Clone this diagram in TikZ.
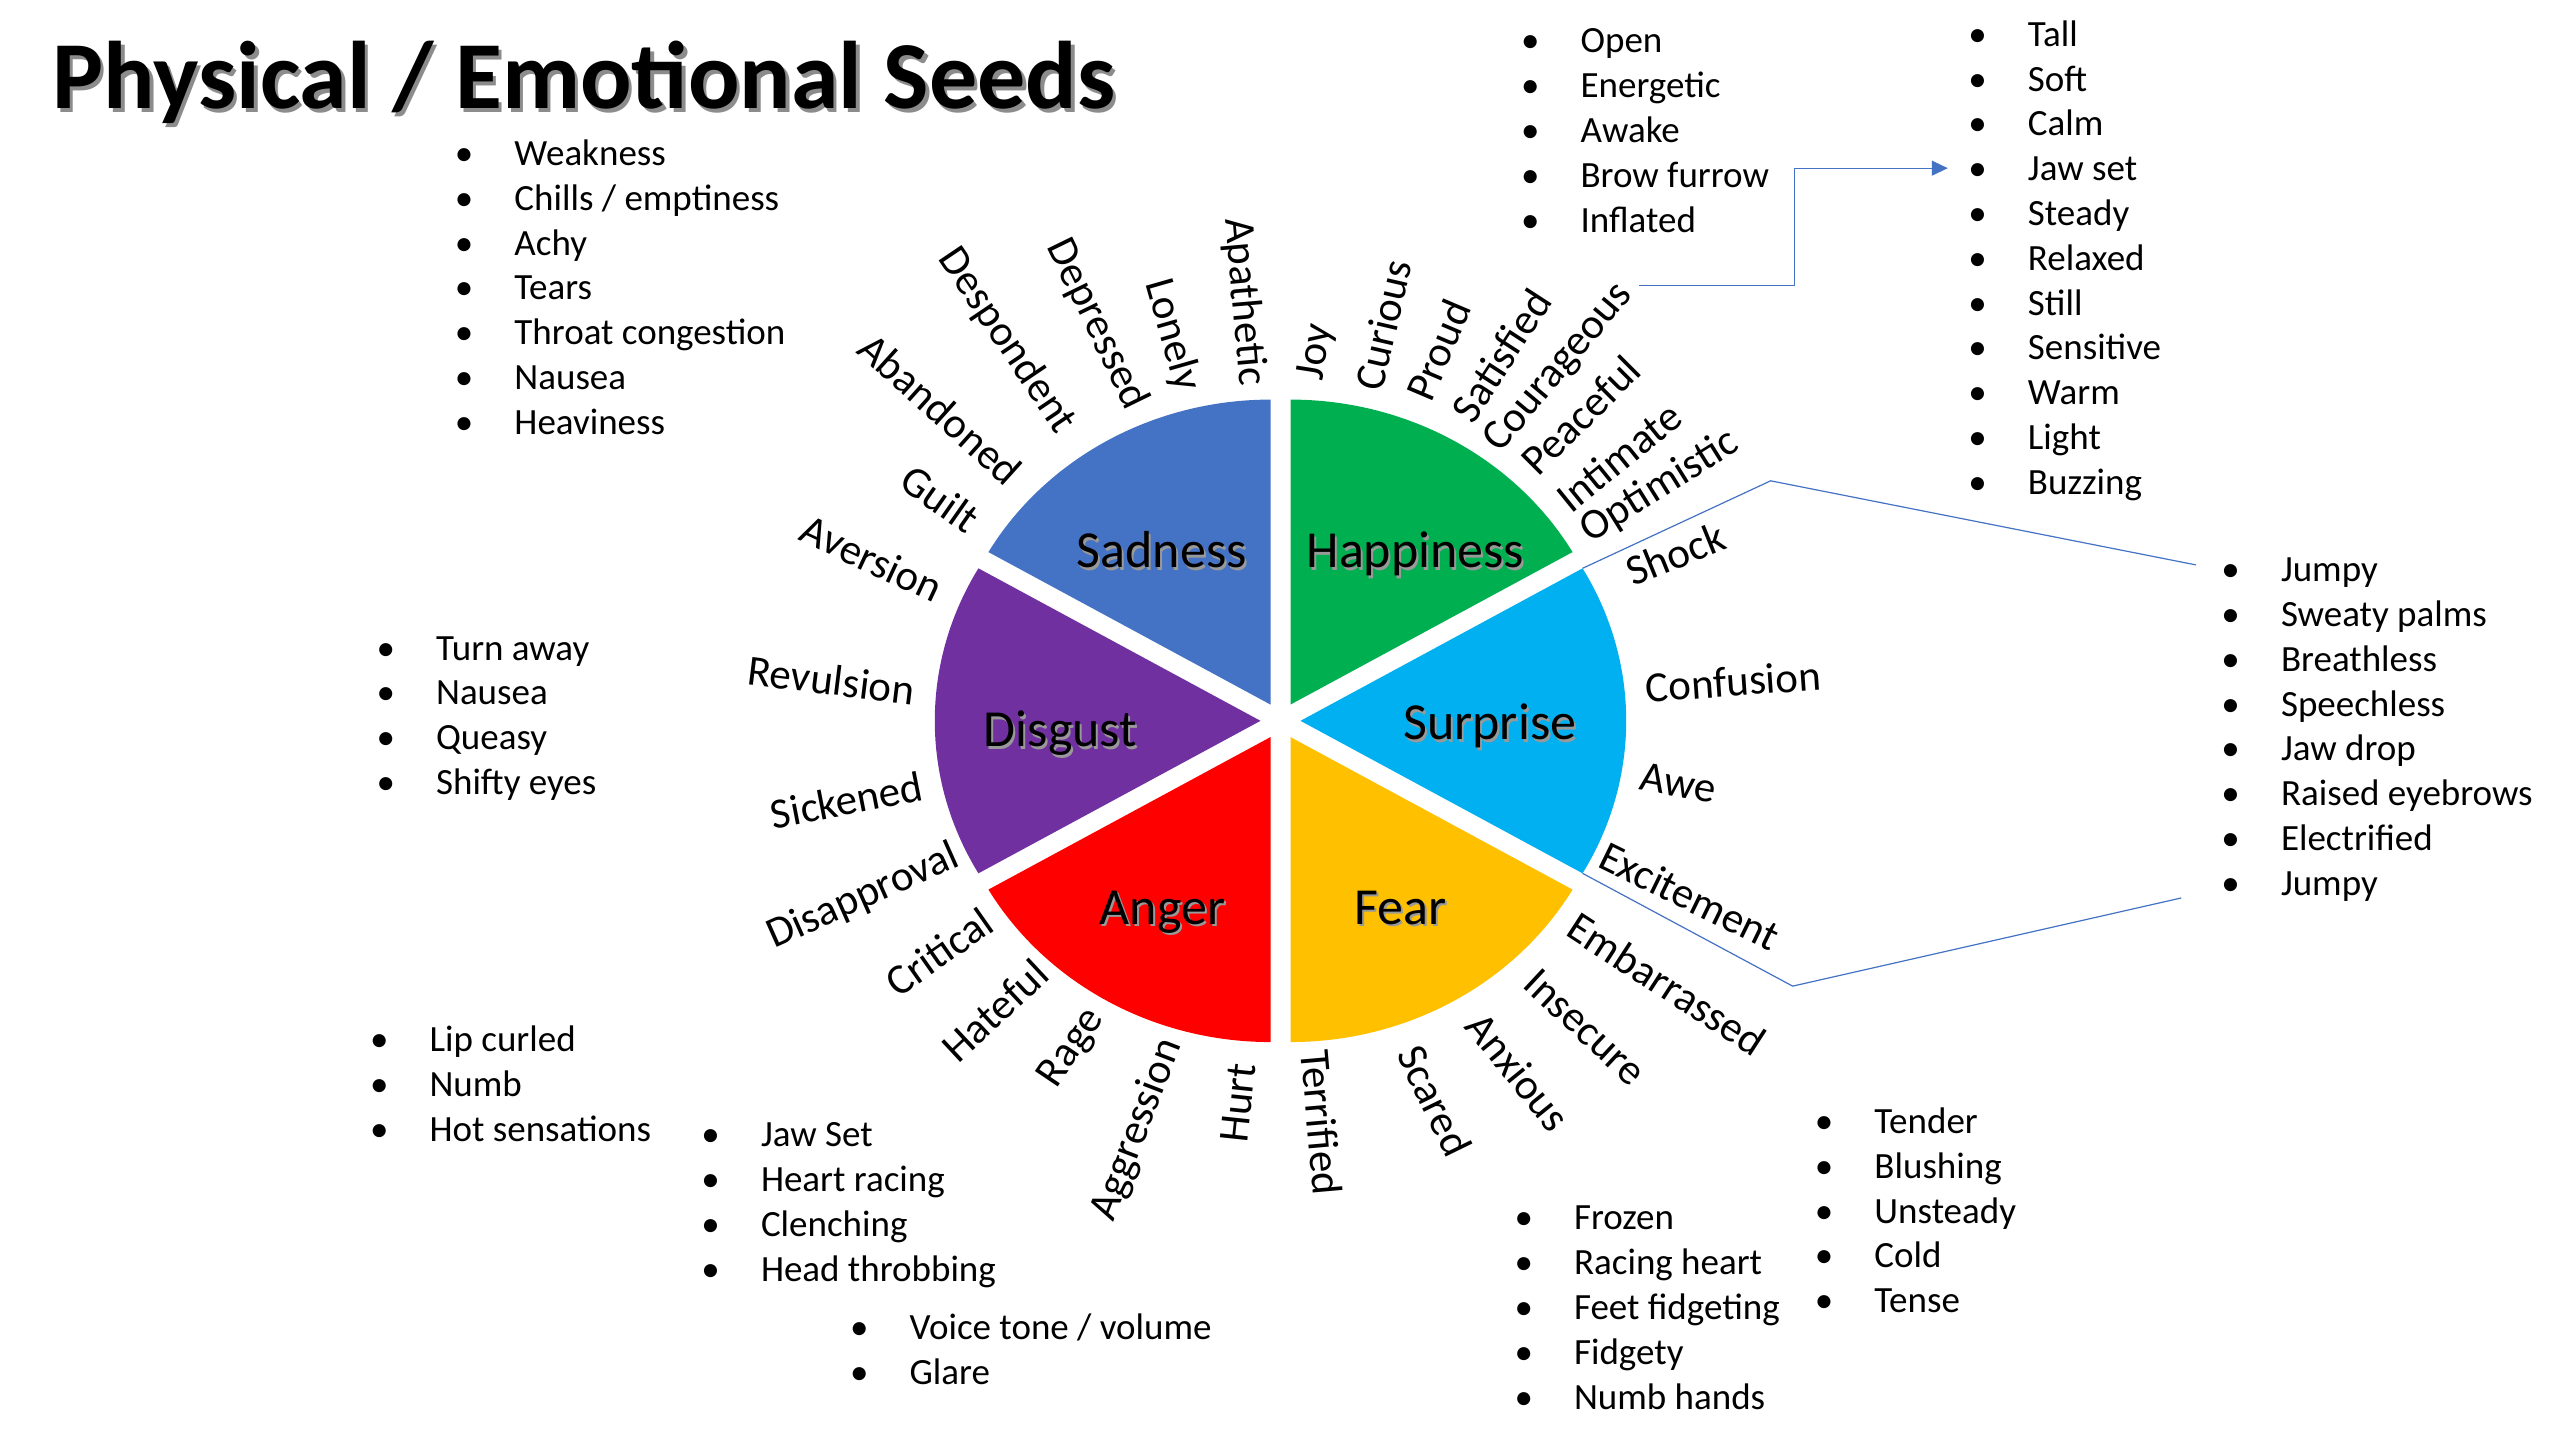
\documentclass[tikz,border=0pt]{standalone}
\usepackage{fontspec}
\setmainfont{Carlito}
\usetikzlibrary{arrows.meta,calc}
\definecolor{sadc}{HTML}{4472C4}
\definecolor{hapc}{HTML}{00B050}
\definecolor{surc}{HTML}{00B0F0}
\definecolor{fearc}{HTML}{FFC000}
\definecolor{angc}{HTML}{FF0000}
\definecolor{disc}{HTML}{7030A0}
\definecolor{linec}{HTML}{4472C4}
\newcommand\wshd[1]{\makebox[0pt][l]{\hspace{2pt}\raisebox{-2.5pt}[0pt][0pt]{\color{black!40}#1}}#1}
\newcommand\tshd[1]{\makebox[0pt][l]{\hspace{3.5pt}\raisebox{-3.5pt}[0pt][0pt]{\color{black!45}#1}}#1}
\newcommand\bl{\makebox[59.6pt][l]{•}}
\begin{document}
\begin{tikzpicture}[x=1.6327pt,y=-1.6327pt,
  lab/.style={inner sep=0pt, font=\fontsize{43}{50}\selectfont},
  wlab/.style={inner sep=0pt, font=\fontsize{52}{60}\selectfont, text height=33.5pt, text depth=0pt},
  bul/.style={anchor=base west, inner sep=0pt, font=\fontsize{37}{44}\selectfont},
  brk/.style={draw=linec, line width=1.2pt}]
\useasboundingbox (0,0) rectangle (1568,882);
\fill[white] (0,0) rectangle (1568,882);

% pie
\begin{scope}[shift={(784.3,441.5)}, yscale=-1]
\foreach \m/\c in {60/hapc,120/sadc,180/disc,240/angc,300/fearc,0/surc}{
  \pgfmathsetmacro\s{\m-30}
  \pgfmathsetmacro\e{\m+30}
  \fill[\c] (\m:12.25 and 11.5) -- ++(\s:199.5 and 186.8)
    arc[start angle=\s, end angle=\e, x radius=199.5, y radius=186.8] -- cycle;
}
\end{scope}

% title
\node[anchor=base west, inner sep=0pt, font=\fontsize{96}{110}\selectfont\bfseries] (title) at (32,66.5) {\tshd{Physical / Emotional Seeds}};

% wedge names
\node[wlab] (sadness) at (711.6,337.5) {\wshd{Sadness}};
\node[wlab] (happiness) at (867,337.5) {\wshd{Happiness}};
\node[wlab] (disgust) at (649.6,447) {\wshd{Disgust}};
\node[wlab] (surprise) at (912.5,442.8) {\wshd{Surprise}};
\node[wlab] (anger) at (712,555.7) {\wshd{Anger}};
\node[wlab] (fear) at (858,555.7) {\wshd{Fear}};

% radial words
\node[lab, rotate=81] (joy) at (806.6,215.7) {Joy};
\node[lab, rotate=77] (curious) at (847.3,199) {Curious};
\node[lab, rotate=67] (proud) at (881,214.4) {Proud};
\node[lab, rotate=57] (satisfied) at (919.3,217.8) {Satisfied};
\node[lab, rotate=50] (courageous) at (954.8,225.5) {Courageous};
\node[lab, rotate=45] (peaceful) at (968,254.2) {Peaceful};
\node[lab, rotate=39] (intimate) at (991.6,279.7) {Intimate};
\node[lab, rotate=32] (optimistic) at (1016.7,298) {Optimistic};
\node[lab, rotate=22] (shock) at (1026.2,339.3) {Shock};
\node[lab, rotate=4] (confusion) at (1061.6,417.4) {Confusion};
\node[lab, rotate=-10] (awe) at (1028,479.6) {Awe};
\node[lab, rotate=-26] (excitement) at (1035,548.7) {Excitement};
\node[lab, rotate=-33] (embarrassed) at (1021,602.7) {Embarrassed};
\node[lab, rotate=-43] (insecure) at (970.7,629.2) {Insecure};
\node[lab, rotate=-51] (anxious) at (930,656.4) {Anxious};
\node[lab, rotate=-64] (scared) at (878.9,674) {Scared};
\node[lab, rotate=-85] (terrified) at (809.6,687.4) {Terrified};
\node[lab, rotate=84] (hurt) at (758.2,675.4) {Hurt};
\node[lab, rotate=69] (aggression) at (696.4,692) {Aggression};
\node[lab, rotate=56] (rage) at (656.8,642) {Rage};
\node[lab, rotate=43] (hateful) at (609.4,619) {Hateful};
\node[lab, rotate=35] (critical) at (575.2,582.9) {Critical};
\node[lab, rotate=24] (disapproval) at (528.8,549.2) {Disapproval};
\node[lab, rotate=11] (sickened) at (518.6,490) {Sickened};
\node[lab, rotate=-7] (revulsion) at (509.2,416.5) {Revulsion};
\node[lab, rotate=-25] (aversion) at (533.9,342) {Aversion};
\node[lab, rotate=-35] (guilt) at (576,305.6) {Guilt};
\node[lab, rotate=-42] (abandoned) at (576,250.5) {Abandoned};
\node[lab, rotate=-56] (despondent) at (616.6,208.7) {Despondent};
\node[lab, rotate=-64] (depressed) at (671.8,198.5) {Depressed};
\node[lab, rotate=-74] (lonely) at (717.8,205.2) {Lonely};
\node[lab, rotate=-85] (apathetic) at (761.8,184.8) {Apathetic};

% bullet lists
\foreach \t [count=\i from 0] in {Weakness,Chills / emptiness,Achy,Tears,Throat congestion,Nausea,Heaviness}
  \node[bul] (sadl\i) at (278.5,101.3+27.45*\i) {\bl\t};
\foreach \t [count=\i from 0] in {Open,Energetic,Awake,Brow furrow,Inflated}
  \node[bul] (hapl\i) at (931.5,32.3+27.45*\i) {\bl\t};
\foreach \t [count=\i from 0] in {Tall,Soft,Calm,Jaw set,Steady,Relaxed,Still,Sensitive,Warm,Light,Buzzing}
  \node[bul] (hapr\i) at (1205.5,28.3+27.45*\i) {\bl\t};
\foreach \t [count=\i from 0] in {Jumpy,Sweaty palms,Breathless,Speechless,Jaw drop,Raised eyebrows,Electrified,Jumpy}
  \node[bul] (surl\i) at (1360.5,356.3+27.45*\i) {\bl\t};
\foreach \t [count=\i from 0] in {Turn away,Nausea,Queasy,Shifty eyes}
  \node[bul] (disl\i) at (230.5,404.3+27.45*\i) {\bl\t};
\foreach \t [count=\i from 0] in {Lip curled,Numb,Hot sensations}
  \node[bul] (anga\i) at (226.5,644.3+27.45*\i) {\bl\t};
\foreach \t [count=\i from 0] in {Jaw Set,Heart racing,Clenching,Head throbbing}
  \node[bul] (angb\i) at (429.5,702.3+27.45*\i) {\bl\t};
\foreach \t [count=\i from 0] in {Voice tone / volume,Glare}
  \node[bul] (angc\i) at (520.5,820.3+27.45*\i) {\bl\t};
\foreach \t [count=\i from 0] in {Frozen,Racing heart,Feet fidgeting,Fidgety,Numb hands}
  \node[bul] (feara\i) at (927.5,753.3+27.45*\i) {\bl\t};
\foreach \t [count=\i from 0] in {Tender,Blushing,Unsteady,Cold,Tense}
  \node[bul] (fearb\i) at (1111.5,694.2+27.45*\i) {\bl\t};

% connectors
\coordinate (e1) at (1004,175);
\coordinate (e2) at (1193,103);
\draw[brk,-{Triangle[length=16pt,width=15pt]}] (e1) -- ++(95,0) |- (e2);

\coordinate (b1) at (969.3,348.1);
\coordinate (b2) at (1084.5,294.5);
\coordinate (b3) at (1345,346);
\draw[brk] (b1) -- (b2) -- (b3);
\coordinate (c1) at (969.3,534.9);
\coordinate (c2) at (1098,604);
\coordinate (c3) at (1336,550);
\draw[brk] (c1) -- (c2) -- (c3);
\end{tikzpicture}
\end{document}
